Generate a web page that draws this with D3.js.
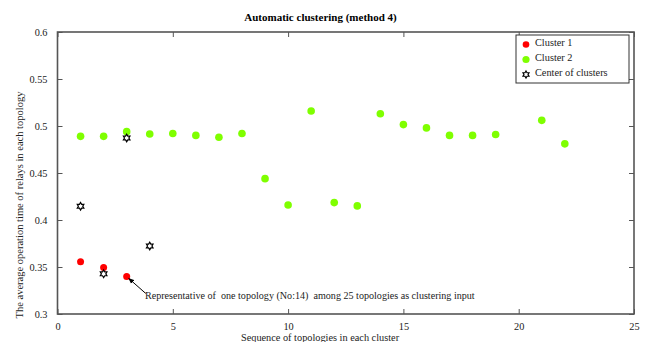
<!DOCTYPE html>
<html><head><meta charset="utf-8">
<script src="https://cdn.jsdelivr.net/npm/d3@7/dist/d3.min.js"></script>
<style>body{margin:0;background:#fff}svg{display:block}text{font-family:"Liberation Serif","Times New Roman",serif}</style>
</head><body><svg id="c" width="646" height="342"></svg>
<script>
const cluster1X = [1, 2, 3];
const cluster1Y = [0.3555, 0.3495, 0.340];
const cluster2X = [1,2,3,4,5,6,7,8,9,10,11,12,13,14,15,16,17,18,19,21,22];
const cluster2Y = [0.489,0.489,0.494,0.4915,0.492,0.490,0.488,0.492,0.444,0.416,0.516,0.4185,0.415,0.513,0.5015,0.498,0.490,0.490,0.491,0.506,0.481];
const centerX = [1, 2, 3, 4];
const centerY = [0.4146, 0.3427, 0.4872, 0.3723];
const xTicks = [0,5,10,15,20,25];
const yTicks = [0.3,0.35,0.4,0.45,0.5,0.55,0.6];
const legendLabels = ["Cluster 1","Cluster 2","Center of clusters"];

const svg = d3.select("#c");
const L=57.5, R=634, T=32, B=314;
const x = d3.scaleLinear().domain([0,25]).range([L,R]);
const y = d3.scaleLinear().domain([0.3,0.6]).range([B,T]);
const axisCol="#555";

// frame
svg.append("rect").attr("x",L).attr("y",T).attr("width",R-L).attr("height",B-T)
  .attr("fill","none").attr("stroke",axisCol).attr("stroke-width",1.6);

const fmtY = d=>String(+d.toFixed(2));
const styleText = g=>g.selectAll("text").attr("font-size",10.3).attr("fill","#222").attr("font-family","Liberation Serif");
svg.append("g").attr("transform",`translate(0,${B})`)
  .call(d3.axisBottom(x).tickValues(xTicks).tickSize(-5).tickPadding(9).tickFormat(d3.format("d")))
  .call(g=>{g.select(".domain").remove();g.selectAll("line").attr("stroke",axisCol);styleText(g);});
svg.append("g").attr("transform",`translate(0,${T})`)
  .call(d3.axisTop(x).tickValues(xTicks).tickSize(-5).tickFormat(""))
  .call(g=>{g.select(".domain").remove();g.selectAll("line").attr("stroke",axisCol);});
svg.append("g").attr("transform",`translate(${L},0)`)
  .call(d3.axisLeft(y).tickValues(yTicks).tickSize(-5).tickPadding(10).tickFormat(fmtY))
  .call(g=>{g.select(".domain").remove();g.selectAll("line").attr("stroke",axisCol);styleText(g);});
svg.append("g").attr("transform",`translate(${R},0)`)
  .call(d3.axisRight(y).tickValues(yTicks).tickSize(-5).tickFormat(""))
  .call(g=>{g.select(".domain").remove();g.selectAll("line").attr("stroke",axisCol);});

// title and labels
svg.append("text").attr("x",320.5).attr("y",21).attr("text-anchor","middle")
  .attr("font-size",11).attr("font-weight","bold").text("Automatic clustering (method 4)");
svg.append("text").attr("x",320).attr("y",340.5).attr("text-anchor","middle")
  .attr("font-size",10.3).attr("fill","#222").text("Sequence of topologies in each cluster");
svg.append("text").attr("transform",`translate(23,205) rotate(-90)`).attr("text-anchor","middle")
  .attr("font-size",10.5).attr("fill","#222").text("The average operation time of relays in each topology");

function hexagram(r){
  const pts=[];
  for(let i=0;i<12;i++){
    const a=-Math.PI/2+i*Math.PI/6;
    const rr = i%2===0 ? r : r/Math.sqrt(3);
    pts.push([rr*Math.cos(a), rr*Math.sin(a)]);
  }
  return "M"+pts.map(p=>p.join(",")).join("L")+"Z";
}

svg.append("g").selectAll("circle").data(cluster2X).join("circle")
  .attr("cx",(d)=>x(d)).attr("cy",(d,i)=>y(cluster2Y[i])).attr("r",3.8).attr("fill","#7fff00");
svg.append("g").selectAll("circle").data(cluster1X).join("circle")
  .attr("cx",(d)=>x(d)).attr("cy",(d,i)=>y(cluster1Y[i])).attr("r",3.5).attr("fill","#ff0000");
svg.append("g").selectAll("path").data(centerX).join("path")
  .attr("transform",(d,i)=>`translate(${x(d)},${y(centerY[i])})`)
  .attr("d",hexagram(3.8)).attr("fill","#fff").attr("stroke","#000").attr("stroke-width",1.2);

// annotation
const ax = x(cluster1X[2]), ay = y(cluster1Y[2]);
svg.append("defs").append("marker").attr("id","ah").attr("viewBox","0 0 10 10").attr("refX",9).attr("refY",5)
  .attr("markerWidth",6).attr("markerHeight",6).attr("orient","auto")
  .append("path").attr("d","M0,1L10,5L0,9Z").attr("fill","#000");
svg.append("line").attr("x1",ax+19).attr("y1",ay+17).attr("x2",ax+2).attr("y2",ay+2)
  .attr("stroke","#000").attr("stroke-width",1).attr("marker-end","url(#ah)");
svg.append("text").attr("x",145).attr("y",299).attr("font-size",10.1).attr("fill","#222")
  .style("white-space","pre")
  .text("Representative of  one topology (No:14)  among 25 topologies as clustering input");

// legend
const lg = svg.append("g");
lg.append("rect").attr("x",516).attr("y",35).attr("width",113).attr("height",48)
  .attr("fill","#fff").attr("stroke","#333").attr("stroke-width",1);
legendLabels.forEach((t,i)=>{
  const yy = 43.5 + i*15;
  if(i===0) lg.append("circle").attr("cx",526).attr("cy",yy+1).attr("r",3.3).attr("fill","#ff0000");
  if(i===1) lg.append("circle").attr("cx",526).attr("cy",yy+1).attr("r",3.6).attr("fill","#7fff00");
  if(i===2) lg.append("path").attr("transform",`translate(526,${yy+1})`).attr("d",hexagram(3.5))
     .attr("fill","#fff").attr("stroke","#000").attr("stroke-width",1.2);
  lg.append("text").attr("x",535).attr("y",yy+2).attr("font-size",10.3).attr("fill","#222").text(t);
});
</script></body></html>
